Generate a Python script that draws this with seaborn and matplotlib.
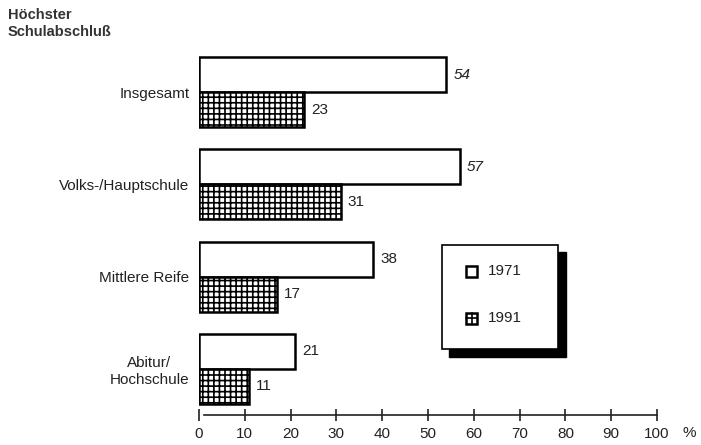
import pandas as pd
import seaborn as sns
import matplotlib.pyplot as plt
from matplotlib.patches import Rectangle
from matplotlib.lines import Line2D
import matplotlib.transforms as mtransforms

# Data
categories = ["Insgesamt", "Volks-/Hauptschule", "Mittlere Reife", "Abitur/\nHochschule"]
years = ["1971", "1991"]
values_1971 = [54, 57, 38, 21]
values_1991 = [23, 31, 17, 11]
xticks = [0, 10, 20, 30, 40, 50, 60, 70, 80, 90, 100]

df = pd.DataFrame({
    "Schulabschluss": categories * 2,
    "Jahr": [years[0]] * len(categories) + [years[1]] * len(categories),
    "Prozent": values_1971 + values_1991,
})

sns.set_theme(style="white")
plt.rcParams["font.family"] = ["Liberation Sans", "DejaVu Sans"]
plt.rcParams["hatch.linewidth"] = 1.2
plt.rcParams["hatch.color"] = "black"

fig = plt.figure(figsize=(7.01, 4.45), dpi=100)
ax = fig.add_axes([199 / 701, 1 - 415 / 445, 458 / 701, 369 / 445])

sns.barplot(data=df, y="Schulabschluss", x="Prozent", hue="Jahr", orient="h",
            palette=["white", "white"], edgecolor="black", linewidth=1.8,
            width=0.76, legend=False, ax=ax)

# grid hatch for 1991 bars
for bar in ax.containers[1]:
    bar.set_hatch("+++")

labels_1971 = ax.bar_label(ax.containers[0], padding=5, fontsize=11, color="#222222")
ax.bar_label(ax.containers[1], padding=5, fontsize=11, color="#222222")
# the two longest values are printed slanted in the original
for t in labels_1971[:2]:
    t.set_style("italic")

ax.set_xlim(0, 100)
ax.set_ylim(3.5, -0.5)
ax.set_xticks(xticks)
ax.set_xlabel("")
ax.set_ylabel("")

for s in ["top", "right", "left"]:
    ax.spines[s].set_visible(False)
ax.spines["bottom"].set_color("#222222")
ax.spines["bottom"].set_linewidth(1.2)
ax.spines["bottom"].set_bounds(1, 100)

ax.tick_params(axis="x", direction="inout", length=9, width=1.2, colors="#222222",
               labelsize=11, pad=4, bottom=True)
ax.tick_params(axis="y", length=0, pad=7, labelsize=11, colors="#222222")
for lbl in ax.get_yticklabels():
    lbl.set_multialignment("center")

trans = mtransforms.blended_transform_factory(ax.transData, ax.transAxes)
ax.text(107, -0.05, "%", transform=trans, ha="center", va="center",
        fontsize=11, color="#222222")

# title in upper left
fig.text(8 / 701, 1 - 8 / 445, "Höchster\nSchulabschluß", ha="left", va="top",
         fontsize=10.5, fontweight="bold", color="#333333", linespacing=1.25)

# legend box with a hard black shadow
fx = lambda px: px / 701
fy = lambda py: 1 - py / 445
fig.patches.append(Rectangle((fx(449), fy(357)), fx(566) - fx(449), fy(252) - fy(357),
                             transform=fig.transFigure, facecolor="black",
                             edgecolor="black", zorder=5))
fig.patches.append(Rectangle((fx(442), fy(349)), fx(558) - fx(442), fy(245) - fy(349),
                             transform=fig.transFigure, facecolor="white",
                             edgecolor="black", linewidth=1.2, zorder=6))
for i, yr in enumerate(years):
    yc = 271 + i * 47
    sq = Rectangle((fx(466), fy(yc + 5.5)), fx(477) - fx(466), fy(yc - 5.5) - fy(yc + 5.5),
                   transform=fig.transFigure, facecolor="white", edgecolor="black",
                   linewidth=1.8, zorder=7)
    fig.patches.append(sq)
    if i == 1:
        fig.lines.append(Line2D([fx(471.5), fx(471.5)], [fy(yc + 5.5), fy(yc - 5.5)],
                                transform=fig.transFigure, color="black", lw=1.2, zorder=8))
        fig.lines.append(Line2D([fx(466), fx(477)], [fy(yc), fy(yc)],
                                transform=fig.transFigure, color="black", lw=1.2, zorder=8))
    fig.text(fx(488), fy(yc), yr, ha="left", va="center", fontsize=11,
             color="#222222", zorder=8)

fig.savefig("out.png", dpi=100)
